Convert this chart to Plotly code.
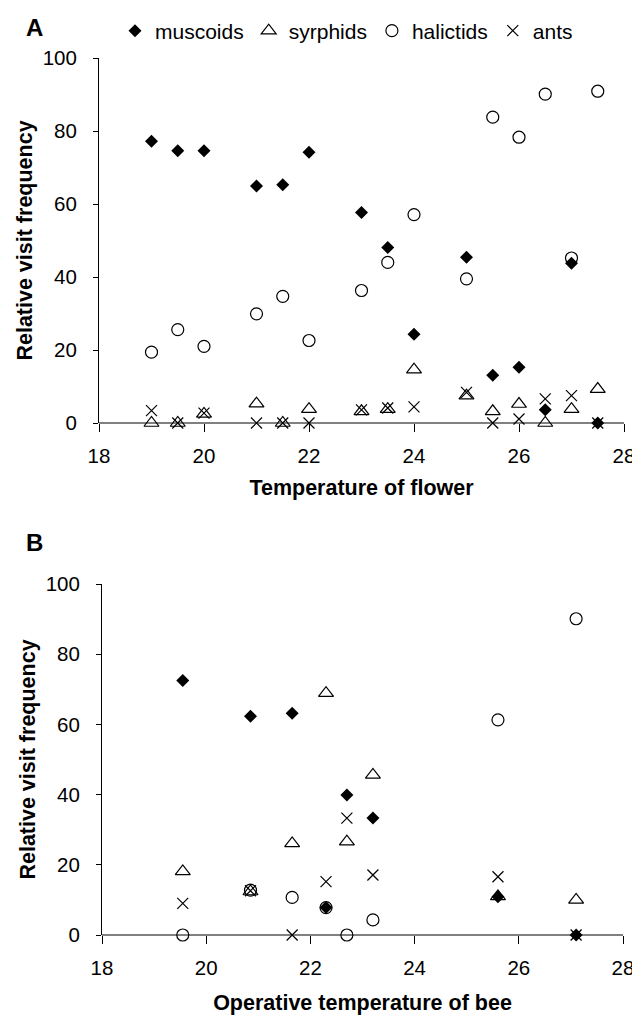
import plotly.graph_objects as go

# ---- Panel A: temperature of flower ----
temp_flower = [19, 19.5, 20, 21, 21.5, 22, 23, 23.5, 24, 25, 25.5, 26, 26.5, 27, 27.5]
a_muscoids = [77.2, 74.6, 74.6, 64.9, 65.3, 74.2, 57.7, 48.1, 24.3, 45.4, 13.1, 15.3, 3.6, 43.8, 0]
a_syrphids = [0, 0, 2.5, 5.3, 0, 3.8, 3.2, 3.8, 14.6, 7.5, 3.2, 5.2, 0, 3.8, 9.3]
a_halictids = [19.4, 25.6, 21.0, 29.9, 34.7, 22.6, 36.3, 44.0, 57.1, 39.5, 83.8, 78.3, 90.1, 45.2, 90.9]
a_ants = [3.4, 0, 2.7, 0, 0, 0, 3.6, 4.1, 4.4, 8.4, 0, 1.1, 6.6, 7.5, 0]

# ---- Panel B: operative temperature of bee ----
temp_bee = [19.55, 20.85, 21.65, 22.3, 22.7, 23.2, 25.6, 27.1]
b_muscoids = [72.5, 62.3, 63.2, 7.8, 39.9, 33.3, 10.9, 0]
b_syrphids = [18.1, 12.4, 26.1, 68.9, 26.6, 45.6, 11.0, 10.0]
b_halictids = [0, 12.8, 10.7, 7.8, 0, 4.3, 61.3, 90.1]
b_ants = [9.0, 12.6, 0, 15.2, 33.3, 17.1, 16.6, 0]

series_names = ["muscoids", "syrphids", "halictids", "ants"]
x_ticks = [18, 20, 22, 24, 26, 28]
y_ticks = [0, 20, 40, 60, 80, 100]

FONT = "Liberation Sans, Arial, sans-serif"
TICKSIZE = 20.5
TITLESIZE = 21.5
styles = {
    "muscoids": dict(symbol="diamond", size=10, color="black", line=dict(width=0, color="black")),
    "syrphids": dict(symbol="triangle-up-open", size=13, color="black", line=dict(width=1.2, color="black")),
    "halictids": dict(symbol="circle-open", size=12, color="black", line=dict(width=1.2, color="black")),
    "ants": dict(symbol="x-thin-open", size=11, color="black", line=dict(width=1.2, color="black")),
}

fig = go.Figure()
a_data = [a_muscoids, a_syrphids, a_halictids, a_ants]
b_data = [b_muscoids, b_syrphids, b_halictids, b_ants]
for name, ys in zip(series_names, a_data):
    fig.add_trace(go.Scatter(x=temp_flower, y=ys, mode="markers", name=name,
                             marker=styles[name], cliponaxis=False,
                             xaxis="x", yaxis="y", legendgroup=name))
for name, ys in zip(series_names, b_data):
    fig.add_trace(go.Scatter(x=temp_bee, y=ys, mode="markers", name=name,
                             marker=styles[name], cliponaxis=False, showlegend=False,
                             xaxis="x2", yaxis="y2", legendgroup=name))

W, H = 640, 1022
def xd(a, b):
    return [a / W, b / W]
def yd(top, bottom):
    return [1 - bottom / H, 1 - top / H]

xcommon = dict(range=[18, 28], tickvals=x_ticks, showgrid=False, zeroline=False,
               showline=False, ticks="outside", ticklen=8, tickcolor="black",
               ticklabelstandoff=6, automargin=False,
               tickfont=dict(size=TICKSIZE, color="black", family=FONT), fixedrange=True)
ycommon = dict(range=[0, 100], tickvals=y_ticks, showgrid=False, zeroline=True,
               zerolinecolor="#808080", zerolinewidth=2,
               showline=True, linecolor="black", linewidth=1, ticks="outside",
               ticklen=5, tickcolor="black", ticklabelstandoff=12, automargin=False,
               tickfont=dict(size=TICKSIZE, color="black", family=FONT),
               title=dict(text="<b>Relative visit frequency</b>",
                          font=dict(size=TITLESIZE, family=FONT, color="black"), standoff=4))

fig.update_layout(
    width=W, height=H,
    margin=dict(l=0, r=0, t=0, b=0),
    paper_bgcolor="white", plot_bgcolor="white",
    font=dict(family=FONT, color="black"),
    xaxis=dict(domain=xd(91, 616), anchor="y",
               title=dict(text="<b>Temperature of flower</b>",
                          font=dict(size=TITLESIZE, family=FONT, color="black"), standoff=14),
               **xcommon),
    yaxis=dict(domain=yd(50, 415), anchor="x", **ycommon),
    xaxis2=dict(domain=xd(94, 615), anchor="y2",
                title=dict(text="<b>Operative temperature of bee</b>",
                           font=dict(size=TITLESIZE, family=FONT, color="black"), standoff=17),
                **xcommon),
    yaxis2=dict(domain=yd(576, 927), anchor="x2", **ycommon),
    legend=dict(orientation="h", x=107 / W, y=1 - 23 / H, xanchor="left", yanchor="middle",
                font=dict(size=21, family=FONT, color="black"), itemwidth=30,
                bgcolor="rgba(0,0,0,0)"),
    showlegend=True,
    annotations=[
        dict(text="<b>A</b>", x=16 / W, y=1 - 19 / H, xref="paper", yref="paper",
             xanchor="left", yanchor="middle", showarrow=False, font=dict(size=24, family=FONT, color="black")),
        dict(text="<b>B</b>", x=16 / W, y=1 - 534 / H, xref="paper", yref="paper",
             xanchor="left", yanchor="middle", showarrow=False, font=dict(size=24, family=FONT, color="black")),
    ],
)

fig.write_html("out.html")
